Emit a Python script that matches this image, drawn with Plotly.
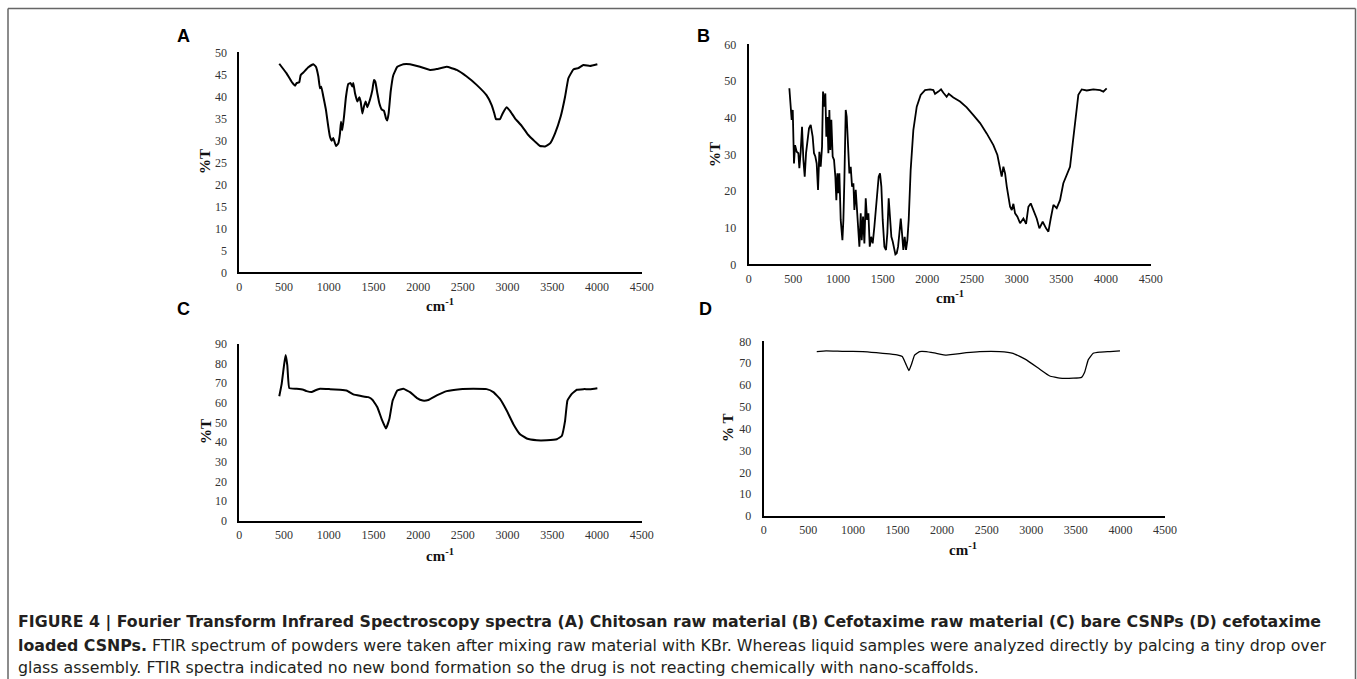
import plotly.graph_objects as go

W, H = 1357, 679

# ---------------- data ----------------
a_x = [447, 529, 585, 623, 641, 671, 686, 716, 772, 828, 857, 884, 902, 917, 940, 969, 995, 1014, 1033, 1051,
       1081, 1107, 1126, 1137, 1152, 1171, 1193, 1219, 1245, 1264, 1275, 1294, 1320, 1342, 1357, 1376, 1394, 1413,
       1432, 1461, 1488, 1506, 1521, 1544, 1566, 1592, 1618, 1640, 1655, 1670, 1693, 1722, 1767, 1834, 1909, 2021,
       2133, 2208, 2319, 2431, 2543, 2654, 2766, 2822, 2852, 2870, 2915, 2945, 2990, 3027, 3083, 3158, 3232, 3307,
       3363, 3419, 3475, 3531, 3594, 3643, 3680, 3736, 3792, 3848, 3922, 4004]
a_y = [47.4, 45.2, 43.3, 42.4, 43.0, 43.2, 44.8, 45.4, 46.6, 47.3, 46.7, 44.5, 41.8, 42.2, 39.9, 36.9, 33.1, 30.8,
       29.9, 30.5, 28.7, 29.3, 31.6, 34.2, 32.3, 35.4, 39.9, 42.8, 43.0, 42.2, 43.0, 40.7, 38.8, 39.8, 38.8, 36.1,
       37.7, 38.8, 37.5, 39.2, 41.4, 43.7, 43.3, 40.7, 38.4, 37.0, 36.7, 35.0, 34.5, 36.1, 41.1, 44.8, 46.7, 47.3,
       47.3, 46.7, 46.0, 46.2, 46.7, 46.0, 44.5, 42.6, 40.2, 38.0, 36.1, 34.8, 34.8, 36.1, 37.5, 36.7, 35.0, 33.3,
       31.2, 29.7, 28.7, 28.6, 29.3, 31.6, 35.4, 39.9, 44.1, 46.1, 46.4, 47.1, 46.9, 47.3]

b_x = [455, 470, 481, 493, 507, 519, 537, 556, 567, 582, 597, 612, 627, 642, 657, 675, 694, 716, 731, 746, 761, 776,
       791, 806, 821, 832, 847, 858, 869, 881, 892, 903, 914, 925, 940, 955, 970, 981, 993, 1004, 1015, 1030, 1049,
       1060, 1071, 1086, 1097, 1112, 1127, 1142, 1157, 1172, 1183, 1198, 1213, 1228, 1239, 1254, 1265, 1280, 1295,
       1310, 1325, 1340, 1355, 1370, 1388, 1407, 1426, 1440, 1455, 1470, 1485, 1500, 1519, 1537, 1552, 1567, 1582,
       1597, 1612, 1627, 1642, 1657, 1672, 1687, 1702, 1716, 1731, 1746, 1761, 1776, 1791, 1813, 1843, 1881, 1925,
       1974, 2030, 2067, 2086, 2123, 2153, 2179, 2216, 2239, 2291, 2366, 2440, 2515, 2590, 2664, 2739, 2784, 2814,
       2832, 2851, 2870, 2889, 2907, 2926, 2945, 2963, 2982, 3008, 3038, 3075, 3105, 3131, 3157, 3187, 3224, 3254,
       3291, 3329, 3355, 3381, 3411, 3448, 3485, 3522, 3567, 3597, 3627, 3657, 3690, 3728, 3784, 3858, 3933, 3970,
       4007]
b_y = [48.0, 42.5, 39.4, 42.1, 27.5, 32.5, 30.7, 30.3, 26.2, 30.7, 37.5, 28.5, 23.9, 30.3, 33.9, 37.1, 38.0, 34.8,
       30.3, 29.4, 27.5, 20.3, 30.7, 26.6, 32.1, 47.1, 43.0, 46.6, 34.8, 40.2, 30.3, 42.1, 31.2, 39.4, 29.4, 28.5,
       23.9, 17.5, 24.8, 19.4, 24.8, 12.1, 6.6, 12.1, 23.0, 42.1, 40.2, 32.1, 24.8, 26.6, 21.2, 22.1, 14.8, 20.3,
       13.9, 10.3, 4.8, 13.9, 6.6, 13.0, 5.7, 18.0, 12.1, 13.9, 4.8, 7.5, 5.7, 10.3, 15.7, 18.5, 23.9, 24.8, 21.2,
       12.1, 4.8, 3.9, 8.5, 18.0, 12.1, 7.5, 6.2, 3.9, 2.7, 3.0, 4.8, 8.5, 12.5, 8.5, 3.9, 7.5, 3.9, 6.6, 12.1,
       25.7, 36.6, 43.0, 46.2, 47.5, 47.7, 47.5, 46.5, 47.1, 47.7, 46.8, 45.7, 46.5, 45.5, 44.4, 42.8, 40.7, 38.5,
       35.7, 32.5, 29.8, 26.6, 23.9, 26.6, 24.8, 21.2, 18.5, 15.7, 14.8, 16.5, 13.9, 13.0, 11.2, 12.5, 11.0, 15.7,
       16.6, 14.8, 12.5, 9.8, 11.6, 9.8, 8.9, 12.5, 16.2, 15.3, 17.5, 22.1, 24.8, 26.6, 33.0, 39.4, 46.2, 47.7,
       47.4, 47.7, 47.5, 47.1, 48.0]

c_x = [447, 474, 500, 518, 537, 559, 641, 716, 753, 809, 846, 902, 1014, 1126, 1200, 1275, 1350, 1443, 1491, 1544,
       1592, 1640, 1678, 1715, 1767, 1834, 1909, 1983, 2051, 2114, 2208, 2319, 2469, 2617, 2766, 2841, 2915, 2990,
       3065, 3139, 3214, 3326, 3438, 3550, 3606, 3643, 3669, 3718, 3774, 3848, 3922, 4004]
c_y = [63.3, 69.6, 79.0, 84.2, 79.0, 67.4, 67.1, 66.6, 65.9, 65.4, 66.2, 67.1, 66.9, 66.6, 66.2, 64.2, 63.5, 62.8,
       61.4, 57.7, 51.7, 46.9, 51.7, 61.1, 66.2, 67.1, 65.4, 62.5, 61.1, 61.4, 63.7, 65.9, 66.9, 67.1, 66.9, 65.4,
       61.9, 56.0, 49.1, 44.0, 41.8, 40.9, 40.9, 41.4, 43.1, 50.8, 61.1, 64.5, 66.6, 66.9, 66.9, 67.4]

d_x = [595, 700, 887, 1112, 1262, 1411, 1505, 1554, 1591, 1629, 1655, 1692, 1748, 1823, 1935, 2047, 2122, 2272,
       2422, 2646, 2796, 2946, 3096, 3208, 3321, 3470, 3564, 3601, 3639, 3695, 3770, 3882, 3995]
d_y = [75.3, 75.6, 75.4, 75.3, 74.8, 74.2, 73.7, 73.0, 69.9, 66.6, 69.2, 73.7, 75.3, 75.3, 74.5, 73.7, 74.0, 74.8,
       75.3, 75.3, 74.5, 71.5, 67.2, 64.1, 63.1, 63.1, 63.5, 66.1, 71.5, 74.5, 75.0, 75.3, 75.6]

x_ticks = [0, 500, 1000, 1500, 2000, 2500, 3000, 3500, 4000, 4500]
a_ticks = list(range(0, 51, 5))
b_ticks = list(range(0, 61, 10))
c_ticks = list(range(0, 91, 10))
d_ticks = list(range(0, 81, 10))

panel_letters = ["A", "B", "C", "D"]
y_titles = ["%T", "%T", "%T", "% T"]
x_title = "cm<sup>-1</sup>"
caption_lines = [
    "<b>FIGURE 4 | Fourier Transform Infrared Spectroscopy spectra (A) Chitosan raw material (B) Cefotaxime raw material (C) bare CSNPs (D) cefotaxime</b>",
    "<b>loaded CSNPs.</b> FTIR spectrum of powders were taken after mixing raw material with KBr. Whereas liquid samples were analyzed directly by palcing a tiny drop over",
    "glass assembly. FTIR spectra indicated no new bond formation so the drug is not reacting chemically with nano-scaffolds.",
]

# ---------------- layout helpers ----------------
def px(x):
    return x / W

def py(y):
    return 1 - y / H

# pixel boxes: (x0, x1, y_top, y_bottom)
boxes = [
    (239.3, 641.7, 52.3, 272.3),
    (748.7, 1150.7, 44.3, 264.3),
    (239.3, 641.7, 343.7, 520.7),
    (763.7, 1165.0, 341.3, 516.0),
]
yranges = [(0, 50), (0, 60), (0, 90), (0, 80)]
yticks = [a_ticks, b_ticks, c_ticks, d_ticks]
series = [(a_x, a_y, 2.0, "spline"), (b_x, b_y, 1.8, "linear"), (c_x, c_y, 2.0, "spline"), (d_x, d_y, 1.3, "spline")]
letter_pos = [(183, 36), (703, 36), (183, 309), (705, 309)]
ytitle_pos = [(205, 162), (715, 155), (206, 432), (728, 428)]
xtitle_pos = [(440, 305), (950, 297), (440, 555), (963, 549)]

fig = go.Figure()
tick_font = dict(family="Liberation Serif, Times New Roman, serif", size=12, color="#333333")
title_font = dict(family="Liberation Serif, Times New Roman, serif", size=15, color="#111111")

layout = dict(
    width=W, height=H, margin=dict(l=0, r=0, t=0, b=0, autoexpand=False),
    paper_bgcolor="white", plot_bgcolor="white", showlegend=False,
)

for i, (xs, ys, lw, shp) in enumerate(series):
    n = "" if i == 0 else str(i + 1)
    line = dict(color="black", width=lw, shape=shp)
    if shp == "spline":
        line["smoothing"] = 0.3
    fig.add_trace(go.Scatter(x=xs, y=ys, mode="lines", line=line,
                             xaxis="x" + n, yaxis="y" + n, hoverinfo="skip"))
    x0, x1, yt, yb = boxes[i]
    layout["xaxis" + n] = dict(
        domain=[px(x0), px(x1)], range=[0, 4500], anchor="y" + n,
        tickvals=x_ticks, ticktext=[str(t) for t in x_ticks],
        showline=True, linecolor="black", linewidth=2, showgrid=False, zeroline=False,
        ticks="outside", ticklen=2, tickcolor="rgba(0,0,0,0)", tickfont=tick_font, fixedrange=True,
    )
    layout["yaxis" + n] = dict(
        domain=[py(yb), py(yt)], range=list(yranges[i]), anchor="x" + n,
        tickvals=yticks[i], ticktext=[str(t) for t in yticks[i]],
        showline=True, linecolor="black", linewidth=2, showgrid=False, zeroline=False,
        ticks="outside", ticklen=8, tickcolor="rgba(0,0,0,0)", tickfont=tick_font, fixedrange=True,
    )

fig.update_layout(**layout)

annotations = []
for i in range(4):
    lx, ly = letter_pos[i]
    annotations.append(dict(x=px(lx), y=py(ly), xref="paper", yref="paper", text="<b>" + panel_letters[i] + "</b>",
                            showarrow=False, xanchor="center", yanchor="middle",
                            font=dict(family="Liberation Sans, Arial, sans-serif", size=18, color="black")))
    tx, ty = ytitle_pos[i]
    annotations.append(dict(x=px(tx), y=py(ty), xref="paper", yref="paper", text="<b>" + y_titles[i] + "</b>",
                            showarrow=False, textangle=-90, xanchor="center", yanchor="middle", font=title_font))
    cx, cy = xtitle_pos[i]
    annotations.append(dict(x=px(cx), y=py(cy), xref="paper", yref="paper", text="<b>" + x_title + "</b>",
                            showarrow=False, xanchor="center", yanchor="middle", font=title_font))

cap_y = [622, 645, 667]
for line, yy in zip(caption_lines, cap_y):
    annotations.append(dict(x=px(16), y=py(yy), xref="paper", yref="paper", text=line, showarrow=False,
                            xanchor="left", yanchor="middle", align="left",
                            font=dict(family="DejaVu Sans, Verdana, sans-serif", size=15.8, color="#231f20")))

fig.update_layout(annotations=annotations)

# outer frame (left, top, right edges; bottom lies outside the view)
frame_col = "#666666"
fig.add_shape(type="line", xref="paper", yref="paper", x0=px(8), x1=px(8), y0=0, y1=py(8.5),
              line=dict(color=frame_col, width=1.5))
fig.add_shape(type="line", xref="paper", yref="paper", x0=px(8), x1=px(1355.5), y0=py(8.5), y1=py(8.5),
              line=dict(color=frame_col, width=1.5))
fig.add_shape(type="line", xref="paper", yref="paper", x0=px(1355.5), x1=px(1355.5), y0=0, y1=py(8.5),
              line=dict(color=frame_col, width=1.5))

fig.write_html("out.html")
